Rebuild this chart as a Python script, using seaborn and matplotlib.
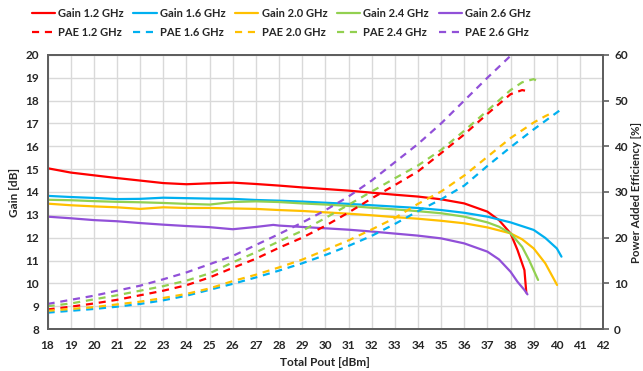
import pandas as pd
import matplotlib.pyplot as plt
import seaborn as sns

# gain curves (left axis, dB)
gain_12_x = [18, 19, 20, 21, 22, 23, 24, 25, 26, 27, 28, 29, 30, 31, 32, 33, 34, 35, 36, 37, 37.5, 38, 38.3, 38.6, 38.68]
gain_12 = [15.04, 14.85, 14.73, 14.61, 14.5, 14.39, 14.34, 14.38, 14.41, 14.35, 14.28, 14.2, 14.13, 14.06, 13.97,
           13.88, 13.8, 13.68, 13.5, 13.14, 12.77, 12.19, 11.46, 10.58, 9.6]
gain_16_x = [18, 19, 20, 21, 22, 23, 24, 25, 26, 27, 28, 29, 30, 31, 32, 33, 34, 35, 36, 37, 38, 39, 39.5, 40, 40.2]
gain_16 = [13.83, 13.78, 13.74, 13.69, 13.7, 13.75, 13.73, 13.71, 13.7, 13.65, 13.62, 13.58, 13.53, 13.48, 13.42,
           13.36, 13.3, 13.21, 13.09, 12.92, 12.67, 12.34, 11.99, 11.53, 11.17]
gain_20_x = [18, 19, 20, 21, 22, 23, 24, 25, 26, 27, 28, 29, 30, 31, 32, 33, 34, 35, 36, 37, 38, 38.5, 39, 39.5, 40.01]
gain_20 = [13.49, 13.42, 13.37, 13.33, 13.26, 13.33, 13.3, 13.3, 13.28, 13.26, 13.21, 13.17, 13.11, 13.05, 12.98,
           12.9, 12.83, 12.74, 12.63, 12.45, 12.19, 11.93, 11.53, 10.88, 9.93]
gain_24_x = [18, 19, 20, 21, 22, 23, 24, 25, 26, 27, 28, 29, 30, 31, 32, 33, 34, 35, 36, 37, 37.5, 38, 38.5, 38.8, 39.19]
gain_24 = [13.66, 13.64, 13.6, 13.57, 13.55, 13.52, 13.48, 13.45, 13.56, 13.59, 13.56, 13.5, 13.45, 13.39, 13.31,
           13.24, 13.16, 13.07, 12.92, 12.67, 12.48, 12.19, 11.6, 11.02, 10.15]
gain_26_x = [18, 19, 20, 21, 22, 23, 24, 25, 26, 27, 27.75, 28, 29, 30, 31, 32, 33, 34, 35, 36, 37, 37.5, 38, 38.3,
             38.6, 38.73]
gain_26 = [12.92, 12.85, 12.77, 12.72, 12.64, 12.57, 12.51, 12.46, 12.37, 12.47, 12.56, 12.53, 12.47, 12.41, 12.35,
           12.27, 12.18, 12.09, 11.97, 11.75, 11.39, 11.05, 10.51, 10.07, 9.71, 9.52]

# PAE curves (right axis, %)
pae_12_x = [18, 19, 20, 21, 22, 23, 24, 25, 26, 27, 28, 29, 30, 31, 32, 33, 34, 35, 36, 37, 38, 38.5, 38.7]
pae_12 = [4.3, 4.9, 5.6, 6.4, 7.4, 8.4, 9.6, 11.3, 13.4, 15.4, 17.8, 20.0, 22.6, 25.5, 28.6, 31.5, 34.5, 38.5, 42.6,
          47.1, 51.4, 52.3, 52.1]
pae_16_x = [18, 19, 20, 21, 22, 23, 24, 25, 26, 27, 28, 29, 30, 31, 32, 33, 34, 35, 36, 37, 38, 39, 40, 40.2]
pae_16 = [3.6, 4.0, 4.4, 4.9, 5.5, 6.3, 7.3, 8.6, 9.9, 11.3, 12.8, 14.4, 16.2, 18.2, 20.4, 23.0, 25.8, 28.4, 31.4,
          35.7, 39.8, 43.7, 47.4, 48.1]
pae_20_x = [18, 19, 20, 21, 22, 23, 24, 25, 26, 27, 28, 29, 30, 31, 32, 33, 34, 35, 36, 37, 38, 39, 39.5, 39.75]
pae_20 = [4.0, 4.4, 4.8, 5.4, 6.0, 6.8, 7.7, 8.9, 10.5, 11.9, 13.5, 15.2, 17.3, 19.4, 21.8, 24.3, 27.4, 30.1, 33.6,
          37.7, 41.8, 45.2, 46.6, 47.2]
pae_24_x = [18, 19, 20, 21, 22, 23, 24, 25, 26, 27, 28, 29, 30, 31, 32, 33, 34, 35, 36, 37, 38, 38.5, 39, 39.15]
pae_24 = [5.0, 5.6, 6.5, 7.4, 8.4, 9.4, 10.6, 12.2, 14.6, 16.8, 19.2, 21.5, 24.3, 27.2, 30.1, 33.0, 35.8, 39.2, 43.4,
          47.8, 52.3, 54.0, 54.7, 54.3]
pae_26_x = [18, 19, 20, 21, 22, 23, 24, 25, 26, 27, 28, 29, 30, 31, 32, 33, 34, 35, 36, 37, 38, 38.05]
pae_26 = [5.5, 6.4, 7.3, 8.4, 9.5, 10.9, 12.4, 14.2, 16.0, 18.4, 20.8, 23.3, 26.0, 29.0, 32.5, 36.5, 40.5, 45.0, 50.0,
          55.0, 59.8, 60.0]

freqs = ["1.2", "1.6", "2.0", "2.4", "2.6"]
colors = ["#FF0000", "#00B0F0", "#FFC000", "#92D050", "#9150D8"]
gains = [(gain_12_x, gain_12), (gain_16_x, gain_16), (gain_20_x, gain_20), (gain_24_x, gain_24), (gain_26_x, gain_26)]
paes = [(pae_12_x, pae_12), (pae_16_x, pae_16), (pae_20_x, pae_20), (pae_24_x, pae_24), (pae_26_x, pae_26)]

sns.set_style("white")
plt.rcParams["font.family"] = ["Lato", "DejaVu Sans"]
plt.rcParams["font.weight"] = "bold"

fig, ax = plt.subplots(figsize=(6.43, 3.71), dpi=100)
fig.subplots_adjust(left=0.074, right=0.938, top=0.852, bottom=0.113)
ax2 = ax.twinx()

handles = []
for f, c, (gx, gy), (px, py) in zip(freqs, colors, gains, paes):
    sns.lineplot(x=gx, y=gy, ax=ax, color=c, linewidth=1.6, sort=False)
    h1 = ax.lines[-1]
    h1.set_label(f"Gain {f} GHz")
    sns.lineplot(x=px, y=py, ax=ax2, color=c, linewidth=1.6, sort=False, linestyle=(0, (3.2, 2.6)))
    h2 = ax2.lines[-1]
    h2.set_label(f"PAE {f} GHz")
    handles += [h1, h2]

for a in (ax, ax2):
    if a.get_legend() is not None:
        a.get_legend().remove()

ax.set_xlim(18, 42)
ax.set_ylim(8, 20)
ax2.set_ylim(0, 60)
ax.set_xticks(range(18, 43))
ax.set_yticks(range(8, 21))
ax2.set_yticks(range(0, 61, 10))
ax.grid(True, color="#d9d9d9", linewidth=1)
ax2.grid(False)
ax.set_axisbelow(True)

for a in (ax, ax2):
    for s in a.spines.values():
        s.set_color("#5f5f5f")
        s.set_linewidth(1.4)
ax.tick_params(axis="y", length=0, labelsize=8.5, colors="#262626", pad=6)
ax.tick_params(axis="x", length=0, labelsize=8.5, colors="#262626", pad=8)
ax2.tick_params(axis="y", length=4, width=1.2, color="#5f5f5f", labelsize=8.5, labelcolor="#262626", pad=4)

ax.set_xlabel("Total Pout [dBm]", fontsize=8.5, fontweight="bold", color="#262626", labelpad=4)
ax.set_ylabel("Gain [dB]", fontsize=8.5, fontweight="bold", color="#262626", labelpad=4)
ax2.set_ylabel("Power Added Efficiency [%]", fontsize=8.2, fontweight="bold", color="#262626", labelpad=2)

fig.legend(handles=handles, loc="upper left", bbox_to_anchor=(0.037, 1.0), ncol=5, frameon=False,
           fontsize=8, handlelength=2.1, handletextpad=0.3, columnspacing=0.85, labelspacing=0.75,
           borderaxespad=0.3)

fig.savefig("out.png", dpi=100)
